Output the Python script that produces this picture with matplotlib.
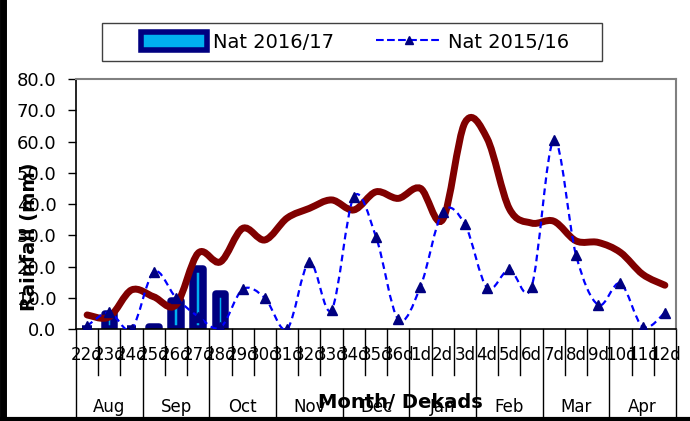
import matplotlib.pyplot as plt
from matplotlib.path import Path
from matplotlib.patches import PathPatch, Patch, Rectangle
from matplotlib.lines import Line2D
import matplotlib.transforms as mtransforms

dekads = ['22d', '23d', '24d', '25d', '26d', '27d', '28d', '29d', '30d',
          '31d', '32d', '33d', '34d', '35d', '36d', '1d', '2d', '3d',
          '4d', '5d', '6d', '7d', '8d', '9d', '10d', '11d', '12d']
months = ['Aug', 'Sep', 'Oct', 'Nov', 'Dec', 'Jan', 'Feb', 'Mar', 'Apr']

nat_2016 = [0.1, 4.9, 0.1, 0.6, 9.1, 19.3, 11.3]
nat_2015 = [1.0, 5.3, 0.0, 18.3, 10.0, 4.0, 0.5, 12.7, 9.9, 0.0, 21.5, 6.1, 42.3, 29.5,
            3.1, 13.5, 37.5, 33.5, 13.2, 19.1, 13.5, 60.5, 23.7, 7.7, 14.6, 0.7, 5.2]
lta = [4.5, 3.9, 12.5, 10.3, 7.7, 24.3, 21.5, 32.2, 28.5, 35.5, 38.6, 41.3, 38.1, 43.9,
       41.8, 45.0, 35.0, 66.0, 61.0, 38.5, 33.9, 34.5, 28.2, 27.7, 24.5, 17.5, 14.0]


def smooth_path(xs, ys):
    # Excel-style smoothed line: cubic bezier through every point
    verts = [(xs[0], ys[0])]
    codes = [Path.MOVETO]
    n = len(xs)
    for i in range(n - 1):
        x0, y0 = (xs[i - 1], ys[i - 1]) if i > 0 else (xs[i], ys[i])
        x1, y1 = xs[i], ys[i]
        x2, y2 = xs[i + 1], ys[i + 1]
        x3, y3 = (xs[i + 2], ys[i + 2]) if i + 2 < n else (x2, y2)
        verts += [(x1 + (x2 - x0) / 6, y1 + (y2 - y0) / 6),
                  (x2 - (x3 - x1) / 6, y2 - (y3 - y1) / 6),
                  (x2, y2)]
        codes += [Path.CURVE4] * 3
    return Path(verts, codes)


fig = plt.figure(figsize=(6.9, 4.21), dpi=100)
ax = fig.add_axes([76 / 690, 1 - 329 / 421, 600 / 690, 250 / 421])

x = list(range(len(dekads)))

ax.bar(x[:len(nat_2016)], nat_2016, width=0.43, color='#00B0F0', edgecolor='#000080',
       linewidth=5.4, joinstyle='round', zorder=2)

ax.add_patch(PathPatch(smooth_path(x, lta), facecolor='none', edgecolor='#800000',
                       linewidth=5, capstyle='round', zorder=3))
ax.add_patch(PathPatch(smooth_path(x, nat_2015), facecolor='none', edgecolor='#0000FF',
                       linewidth=1.6, linestyle=(0, (3, 2)), zorder=4))
ax.plot(x, nat_2015, linestyle='none', marker='^', markersize=7, color='#000080', zorder=5)

ax.set_xlim(-0.5, len(dekads) - 0.5)
ax.set_ylim(0, 80)
ax.set_yticks(range(0, 81, 10))
ax.set_yticklabels([f'{v:.1f}' for v in range(0, 81, 10)], fontsize=13)
ax.tick_params(axis='y', length=6, width=1, pad=8)
ax.set_xticks(x)
ax.set_xticklabels(dekads, fontsize=12)
ax.tick_params(axis='x', length=0, pad=12)

for s in ['top', 'right']:
    ax.spines[s].set_color('#808080')
    ax.spines[s].set_linewidth(1.5)
ax.spines['left'].set_linewidth(1.2)
ax.spines['bottom'].set_linewidth(1.2)

# dekad and month separators below the axis
trans = mtransforms.blended_transform_factory(ax.transData, ax.transAxes)
for i in range(len(dekads) + 1):
    low = -0.356 if i % 3 == 0 else -0.184
    ax.plot([i - 0.5, i - 0.5], [0, low], color='black', linewidth=1,
            transform=trans, clip_on=False)
for j, m in enumerate(months):
    ax.text(3 * j + 1, -0.31, m, transform=trans, ha='center', va='center', fontsize=12)

fig.text(400 / 690, 1 - 403 / 421, 'Month/ Dekads', ha='center', va='center',
         fontsize=14, fontweight='bold')
fig.text(30 / 690, 1 - 237 / 421, 'Rainfall (mm)', ha='center', va='center',
         rotation=90, fontsize=14, fontweight='bold')

# legend box drawn separately so it can be wider than the entries
fig.add_artist(Rectangle((102 / 690, 1 - 61 / 421), 500 / 690, 38 / 421,
                         facecolor='white', edgecolor='#404040', linewidth=1,
                         transform=fig.transFigure, zorder=9))
handles = [Patch(facecolor='#00B0F0', edgecolor='#000080', linewidth=4, joinstyle='round'),
           Line2D([], [], color='#0000FF', linestyle='--', linewidth=1.5,
                  marker='^', markersize=6, markerfacecolor='#000080',
                  markeredgecolor='#000080')]
leg = fig.legend(handles, ['Nat 2016/17', 'Nat 2015/16'], ncol=2, fontsize=14,
                 loc='center', bbox_to_anchor=(355 / 690, 1 - 42 / 421),
                 frameon=False, handlelength=3.4, handleheight=1.0, handletextpad=0.3,
                 columnspacing=2.2, borderpad=0, borderaxespad=0)
leg.set_zorder(10)

fig.add_artist(Line2D([3 / 690, 3 / 690], [0, 1], color='black', linewidth=5,
                      transform=fig.transFigure))
fig.add_artist(Line2D([0, 1], [2 / 421, 2 / 421], color='black', linewidth=3,
                      transform=fig.transFigure))

fig.savefig('out.png', dpi=100)
